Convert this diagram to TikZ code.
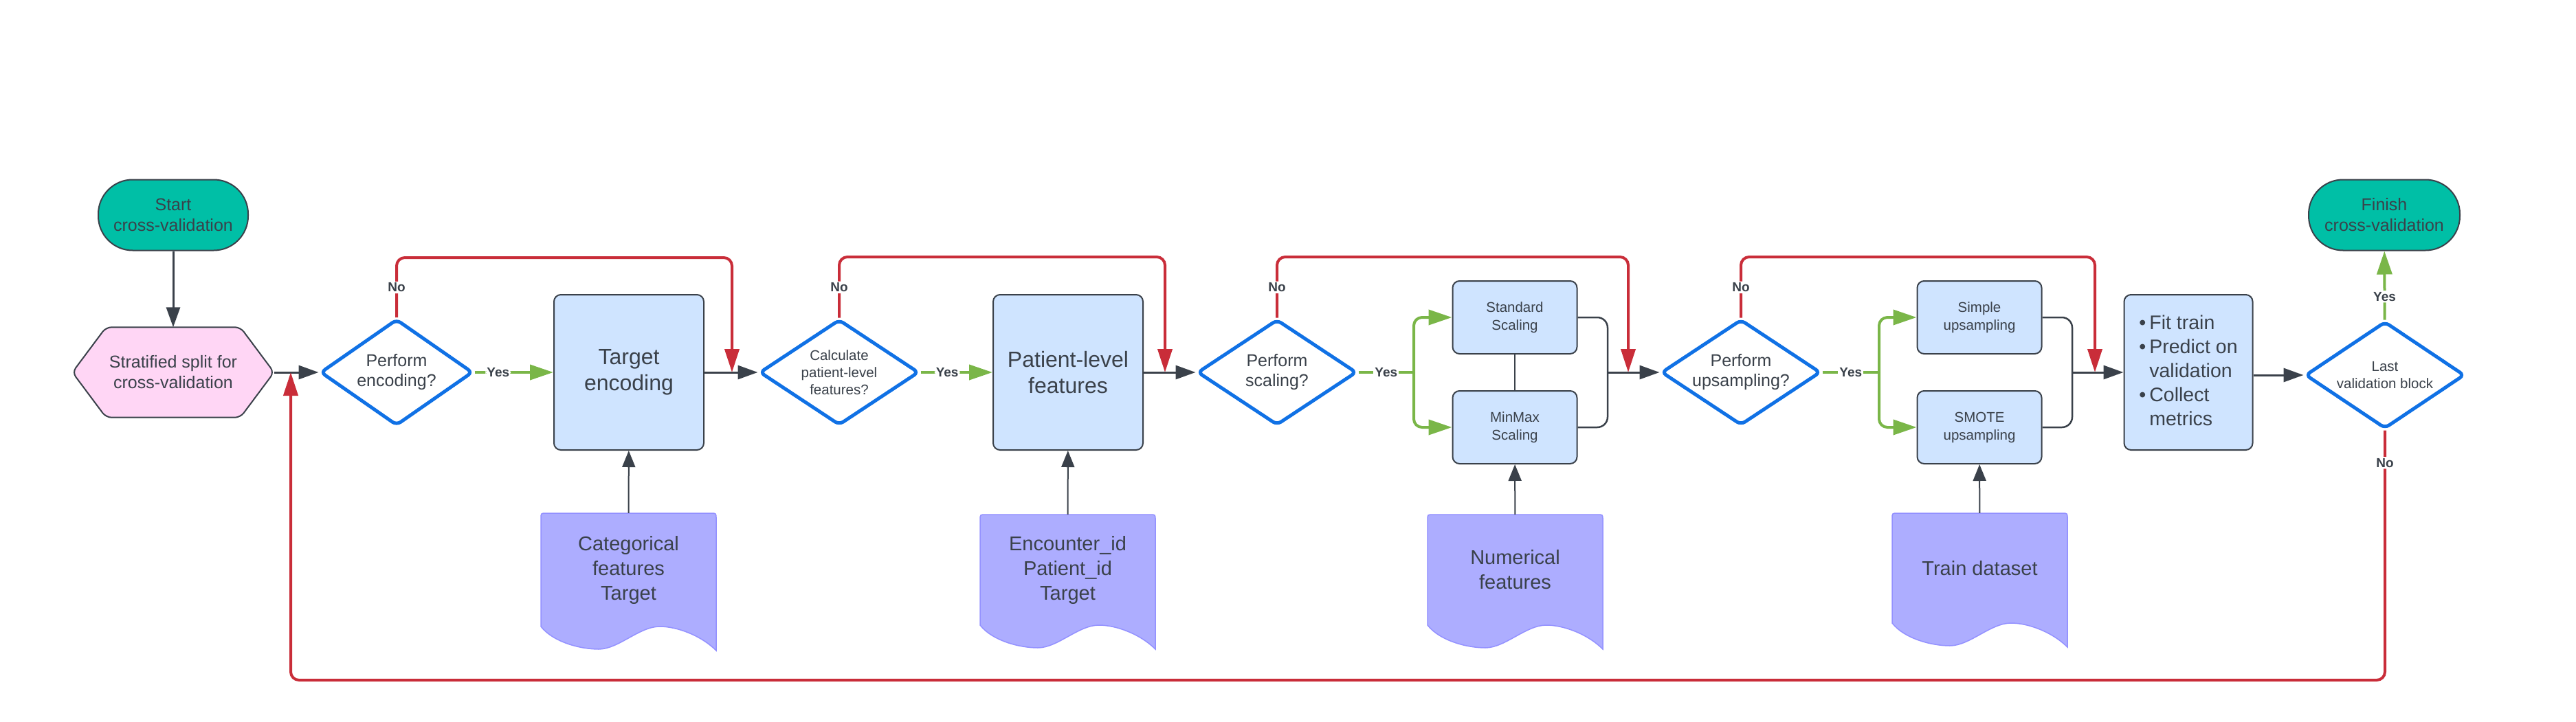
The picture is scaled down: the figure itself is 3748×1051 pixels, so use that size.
\documentclass[tikz,border=0pt]{standalone}
\usepackage{fontspec}
\setmainfont{Liberation Sans}
\usetikzlibrary{arrows.meta,shapes.geometric,backgrounds}
\definecolor{dark}{HTML}{3A414A}
\definecolor{lured}{HTML}{C92D39}
\definecolor{lugreen}{HTML}{7AB648}
\definecolor{lublue}{HTML}{1071E5}
\definecolor{boxfill}{HTML}{CFE4FF}
\definecolor{tealfill}{HTML}{00BFA6}
\definecolor{pinkfill}{HTML}{FFD6F5}
\definecolor{docfill}{HTML}{ADADFF}
\definecolor{docline}{HTML}{9391FF}
\newcommand{\fs}[2]{\fontsize{#1pt}{#2pt}\selectfont}
% document shape: left x, top y, bottom-left y
\newcommand{\docshape}[3]{%
  \draw[docst] (#1,#3) -- (#1,#2+8) .. controls (#1,#2) .. (#1+8,#2)
    -- (#1+247,#2) .. controls (#1+255,#2) .. (#1+255,#2+8)
    -- (#1+255,#3+35) .. controls (#1+233,#3+13) and (#1+198,#3) .. (#1+173,#3)
    .. controls (#1+143,#3) and (#1+113,#3+33) .. (#1+84,#3+33)
    .. controls (#1+58,#3+33) and (#1+18,#3+23) .. (#1,#3) -- cycle;}
\begin{document}
\begin{tikzpicture}[x=1pt,y=-1pt,
  every node/.style={text=dark},
  term/.style={draw=dark, line width=2pt, fill=tealfill, rounded corners=50pt,
    minimum width=218pt, minimum height=103pt, align=center, inner sep=0pt, font=\fs{25}{30}},
  hexnode/.style={minimum width=293pt, minimum height=131pt, align=center, inner sep=0pt, font=\fs{25}{30}},
  hexst/.style={draw=dark, line width=2pt, fill=pinkfill, rounded corners=8pt},
  dec/.style={diamond, draw=lublue, line width=5pt, fill=white, rounded corners=7pt,
    inner sep=0pt, aspect=1.45, minimum width=232pt, minimum height=154pt, align=center, font=\fs{25}{29}},
  bigbox/.style={rectangle, draw=dark, line width=2pt, fill=boxfill, rounded corners=10pt,
    align=center, minimum width=218pt, minimum height=226pt, inner sep=0pt, font=\fs{32}{38}},
  smallbox/.style={rectangle, draw=dark, line width=2pt, fill=boxfill, rounded corners=10pt,
    align=center, minimum width=181pt, minimum height=106pt, inner sep=0pt, font=\fs{20.5}{26}},
  doctext/.style={minimum width=255pt, align=center, inner sep=0pt, font=\fs{29}{36}},
  docst/.style={draw=docline, line width=1.5pt, fill=docfill},
  lab/.style={fill=white, inner sep=2pt, font=\bfseries\fs{19}{22}},
  blk/.style={draw=dark, line width=3pt, -{Triangle[length=29pt,width=20pt]}},
  thinarr/.style={draw=dark, line width=2pt, -{Triangle[length=24pt,width=19pt]}},
  rl/.style={draw=lured, line width=4pt, rounded corners=12pt, -{Triangle[length=34pt,width=21pt]}},
  gl/.style={draw=lugreen, line width=4pt, rounded corners=12pt, -{Triangle[length=34pt,width=22pt]}},
  glplain/.style={draw=lugreen, line width=4pt},
  merge/.style={draw=dark, line width=2.5pt, rounded corners=15pt}
]
\useasboundingbox (0,0) rectangle (3748,1051);

% ---- nodes ----
\node[term] (start) at (252,313) {Start\\cross-validation};
\node[hexnode] (split) at (252,542) {Stratified split for\\cross-validation};
\node[dec, minimum width=222pt, minimum height=155pt] (d1) at (577,542) {Perform\\encoding?};
\node[bigbox] (target) at (915,542) {Target\\encoding};
\node[dec, font=\fs{20.5}{25}] (d2) at (1221,542) {Calculate\\patient-level\\features?};
\node[bigbox] (patient) at (1554,542) {Patient-level\\features};
\node[dec] (d3) at (1858,542) {Perform\\scaling?};
\node[smallbox] (std) at (2204,462) {Standard\\Scaling};
\node[smallbox] (minmax) at (2204,622) {MinMax\\Scaling};
\node[dec] (d4) at (2533,542) {Perform\\upsampling?};
\node[smallbox] (simple) at (2880,462) {Simple\\upsampling};
\node[smallbox] (smote) at (2880,622) {SMOTE\\upsampling};
\node[bigbox, minimum width=187pt, font=\fs{28.5}{35}] (fit) at (3184,542)
  {\begin{tabular}{@{}l@{\hspace{5pt}}l@{}}\textbullet & Fit train\\ \textbullet & Predict on\\ & validation\\ \textbullet & Collect\\ & metrics\end{tabular}};
\node[dec, font=\fs{20.5}{25}, minimum height=156pt] (d5) at (3470,546) {Last\\validation block};
\node[term, minimum width=220pt] (finish) at (3469,313) {Finish\\cross-validation};

\node[doctext, minimum height=165pt] (cat) at (914.5,829.5) {Categorical\\features\\Target};
\node[doctext, minimum height=161pt] (enc) at (1553.5,829.5) {Encounter\_id\\Patient\_id\\Target};
\node[doctext, minimum height=161pt] (num) at (2204.5,829.5) {Numerical\\features};
\node[doctext, minimum height=160pt] (train) at (2880.5,827) {Train dataset};

\begin{scope}[on background layer]
  \draw[hexst] (split.west) -- ([xshift=49pt]split.north west) -- ([xshift=-49pt]split.north east)
    -- (split.east) -- ([xshift=-49pt]split.south east) -- ([xshift=49pt]split.south west) -- cycle;
  \docshape{787}{747}{912}
  \docshape{1426}{749}{910}
  \docshape{2077}{749}{910}
  \docshape{2753}{747}{907}
\end{scope}

% ---- junction coordinates ----
\coordinate (m0) at (423,542);
\coordinate (m1) at (1065,542);
\coordinate (m2) at (1695,542);
\coordinate (m3) at (2369,542);
\coordinate (m4) at (3048,542);
\coordinate (b3) at (2057,542);
\coordinate (j3) at (2339,542);
\coordinate (b4) at (2734,542);
\coordinate (j4) at (3015,542);

% ---- main flow ----
\draw[blk] (start) -- (split);
\draw[blk] (split) -- (d1);
\draw[gl] (d1) -- node[lab, pos=0.3] {Yes} (target);
\draw[blk] (target) -- (d2);
\draw[gl] (d2) -- node[lab, pos=0.37] {Yes} (patient);
\draw[blk] (patient) -- (d3);
\draw[glplain] (d3) -- node[lab] {Yes} (b3);
\draw[gl] (b3) |- (std.west);
\draw[gl] (b3) |- (minmax.west);
\draw[draw=dark, line width=2pt] (std) -- (minmax);
\draw[merge] (std.east) -| (j3);
\draw[merge] (minmax.east) -| (j3);
\draw[blk] (j3) -- (d4);
\draw[glplain] (d4) -- node[lab] {Yes} (b4);
\draw[gl] (b4) |- (simple.west);
\draw[gl] (b4) |- (smote.west);
\draw[merge] (simple.east) -| (j4);
\draw[merge] (smote.east) -| (j4);
\draw[blk] (j4) -- (fit);
\draw[blk] (fit.east |- d5.west) -- (d5.west);
\draw[gl] (d5) -- node[lab, pos=0.34] {Yes} (finish);

% ---- data inputs ----
\draw[thinarr] (cat) -- (target);
\draw[thinarr] (enc) -- (patient);
\draw[thinarr] (num) -- (minmax);
\draw[thinarr] (train) -- (smote);

% ---- "No" bypasses ----
\draw[rl] (d1.north) -- node[lab] {No} (d1.north |- 0,375) -| (m1);
\draw[rl] (d2.north) -- node[lab] {No} (d2.north |- 0,374) -| (m2);
\draw[rl] (d3.north) -- node[lab] {No} (d3.north |- 0,374) -| (m3);
\draw[rl] (d4.north) -- node[lab] {No} (d4.north |- 0,374) -| (m4);
\draw[rl] (d5.south) -- node[lab, pos=0.13] {No} (d5.south |- 0,990) -| (m0);
\end{tikzpicture}
\end{document}
